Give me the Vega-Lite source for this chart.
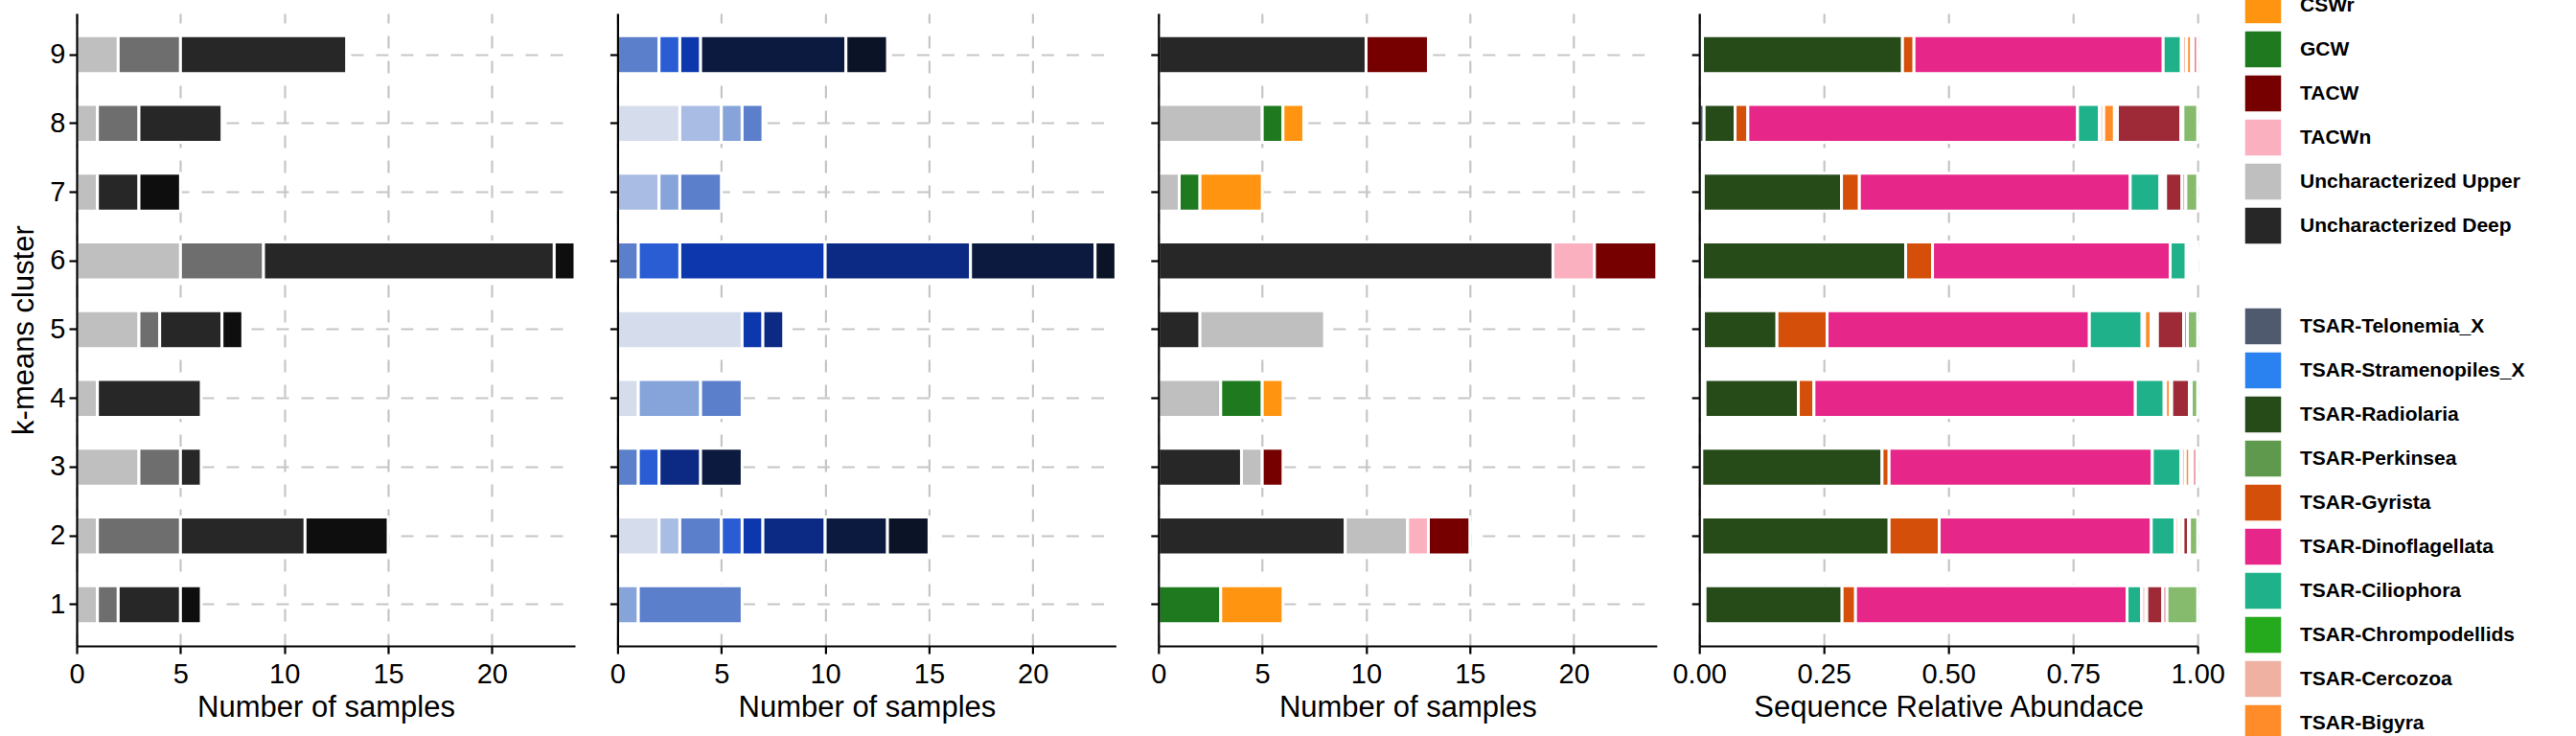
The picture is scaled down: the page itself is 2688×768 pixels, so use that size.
{
  "$schema": "https://vega.github.io/schema/vega-lite/v6.json",
  "background": "white",
  "autosize": {"type": "pad"},
  "padding": {"left": 9, "top": -15, "right": 5, "bottom": -8},
  "spacing": 44.4,
  "bounds": "flush",
  "resolve": {"scale": {"color": "independent", "x": "independent", "y": "independent"}, "legend": {"color": "independent"}},
  "datasets": {
    "gray": [
      {"cluster": 9, "zone": "Epipelagic", "n": 2}, {"cluster": 9, "zone": "Mesopelagic", "n": 3}, {"cluster": 9, "zone": "Bathypelagic", "n": 8},
      {"cluster": 8, "zone": "Epipelagic", "n": 1}, {"cluster": 8, "zone": "Mesopelagic", "n": 2}, {"cluster": 8, "zone": "Bathypelagic", "n": 4},
      {"cluster": 7, "zone": "Epipelagic", "n": 1}, {"cluster": 7, "zone": "Bathypelagic", "n": 2}, {"cluster": 7, "zone": "Abyssopelagic", "n": 2},
      {"cluster": 6, "zone": "Epipelagic", "n": 5}, {"cluster": 6, "zone": "Mesopelagic", "n": 4}, {"cluster": 6, "zone": "Bathypelagic", "n": 14}, {"cluster": 6, "zone": "Abyssopelagic", "n": 1},
      {"cluster": 5, "zone": "Epipelagic", "n": 3}, {"cluster": 5, "zone": "Mesopelagic", "n": 1}, {"cluster": 5, "zone": "Bathypelagic", "n": 3}, {"cluster": 5, "zone": "Abyssopelagic", "n": 1},
      {"cluster": 4, "zone": "Epipelagic", "n": 1}, {"cluster": 4, "zone": "Bathypelagic", "n": 5},
      {"cluster": 3, "zone": "Epipelagic", "n": 3}, {"cluster": 3, "zone": "Mesopelagic", "n": 2}, {"cluster": 3, "zone": "Bathypelagic", "n": 1},
      {"cluster": 2, "zone": "Epipelagic", "n": 1}, {"cluster": 2, "zone": "Mesopelagic", "n": 4}, {"cluster": 2, "zone": "Bathypelagic", "n": 6}, {"cluster": 2, "zone": "Abyssopelagic", "n": 4},
      {"cluster": 1, "zone": "Epipelagic", "n": 1}, {"cluster": 1, "zone": "Mesopelagic", "n": 1}, {"cluster": 1, "zone": "Bathypelagic", "n": 3}, {"cluster": 1, "zone": "Abyssopelagic", "n": 1}
    ],
    "blue": [
      {"cluster": 9, "layer": "Layer 4", "n": 2}, {"cluster": 9, "layer": "Layer 5", "n": 1}, {"cluster": 9, "layer": "Layer 6", "n": 1}, {"cluster": 9, "layer": "Layer 8", "n": 7}, {"cluster": 9, "layer": "Layer 9", "n": 2},
      {"cluster": 8, "layer": "Layer 1", "n": 3}, {"cluster": 8, "layer": "Layer 2", "n": 2}, {"cluster": 8, "layer": "Layer 3", "n": 1}, {"cluster": 8, "layer": "Layer 4", "n": 1},
      {"cluster": 7, "layer": "Layer 2", "n": 2}, {"cluster": 7, "layer": "Layer 3", "n": 1}, {"cluster": 7, "layer": "Layer 4", "n": 2},
      {"cluster": 6, "layer": "Layer 4", "n": 1}, {"cluster": 6, "layer": "Layer 5", "n": 2}, {"cluster": 6, "layer": "Layer 6", "n": 7}, {"cluster": 6, "layer": "Layer 7", "n": 7}, {"cluster": 6, "layer": "Layer 8", "n": 6}, {"cluster": 6, "layer": "Layer 9", "n": 1},
      {"cluster": 5, "layer": "Layer 1", "n": 6}, {"cluster": 5, "layer": "Layer 6", "n": 1}, {"cluster": 5, "layer": "Layer 7", "n": 1},
      {"cluster": 4, "layer": "Layer 1", "n": 1}, {"cluster": 4, "layer": "Layer 3", "n": 3}, {"cluster": 4, "layer": "Layer 4", "n": 2},
      {"cluster": 3, "layer": "Layer 4", "n": 1}, {"cluster": 3, "layer": "Layer 5", "n": 1}, {"cluster": 3, "layer": "Layer 7", "n": 2}, {"cluster": 3, "layer": "Layer 8", "n": 2},
      {"cluster": 2, "layer": "Layer 1", "n": 2}, {"cluster": 2, "layer": "Layer 2", "n": 1}, {"cluster": 2, "layer": "Layer 4", "n": 2}, {"cluster": 2, "layer": "Layer 5", "n": 1}, {"cluster": 2, "layer": "Layer 6", "n": 1}, {"cluster": 2, "layer": "Layer 7", "n": 3}, {"cluster": 2, "layer": "Layer 8", "n": 3}, {"cluster": 2, "layer": "Layer 9", "n": 2},
      {"cluster": 1, "layer": "Layer 3", "n": 1}, {"cluster": 1, "layer": "Layer 4", "n": 5}
    ],
    "mass": [
      {"cluster": 9, "mass": "Uncharacterized Deep", "n": 10}, {"cluster": 9, "mass": "TACW", "n": 3},
      {"cluster": 8, "mass": "Uncharacterized Upper", "n": 5}, {"cluster": 8, "mass": "GCW", "n": 1}, {"cluster": 8, "mass": "CSWr", "n": 1},
      {"cluster": 7, "mass": "Uncharacterized Upper", "n": 1}, {"cluster": 7, "mass": "GCW", "n": 1}, {"cluster": 7, "mass": "CSWr", "n": 3},
      {"cluster": 6, "mass": "Uncharacterized Deep", "n": 19}, {"cluster": 6, "mass": "TACWn", "n": 2}, {"cluster": 6, "mass": "TACW", "n": 3},
      {"cluster": 5, "mass": "Uncharacterized Deep", "n": 2}, {"cluster": 5, "mass": "Uncharacterized Upper", "n": 6},
      {"cluster": 4, "mass": "Uncharacterized Upper", "n": 3}, {"cluster": 4, "mass": "GCW", "n": 2}, {"cluster": 4, "mass": "CSWr", "n": 1},
      {"cluster": 3, "mass": "Uncharacterized Deep", "n": 4}, {"cluster": 3, "mass": "Uncharacterized Upper", "n": 1}, {"cluster": 3, "mass": "TACW", "n": 1},
      {"cluster": 2, "mass": "Uncharacterized Deep", "n": 9}, {"cluster": 2, "mass": "Uncharacterized Upper", "n": 3}, {"cluster": 2, "mass": "TACWn", "n": 1}, {"cluster": 2, "mass": "TACW", "n": 2},
      {"cluster": 1, "mass": "GCW", "n": 3}, {"cluster": 1, "mass": "CSWr", "n": 3}
    ],
    "taxa": [
      {"cluster": 9, "taxon": "Unassigned", "p": 0.0064}, {"cluster": 9, "taxon": "TSAR-Radiolaria", "p": 0.4013}, {"cluster": 9, "taxon": "TSAR-Gyrista", "p": 0.0231}, {"cluster": 9, "taxon": "TSAR-Dinoflagellata", "p": 0.5}, {"cluster": 9, "taxon": "TSAR-Ciliophora", "p": 0.0365}, {"cluster": 9, "taxon": "TSAR-Chrompodellids", "p": 0.003}, {"cluster": 9, "taxon": "TSAR-Cercozoa", "p": 0.0077}, {"cluster": 9, "taxon": "TSAR-Bigyra", "p": 0.0098}, {"cluster": 9, "taxon": "TSAR-Apicomplexa", "p": 0.0032}, {"cluster": 9, "taxon": "TSAR-Alveolata_X", "p": 0.009},
      {"cluster": 8, "taxon": "TSAR-Telonemia_X", "p": 0.0096}, {"cluster": 8, "taxon": "TSAR-Radiolaria", "p": 0.0622}, {"cluster": 8, "taxon": "TSAR-Gyrista", "p": 0.0256}, {"cluster": 8, "taxon": "TSAR-Dinoflagellata", "p": 0.6616}, {"cluster": 8, "taxon": "TSAR-Ciliophora", "p": 0.044}, {"cluster": 8, "taxon": "TSAR-Chrompodellids", "p": 0.001}, {"cluster": 8, "taxon": "TSAR-Cercozoa", "p": 0.0075}, {"cluster": 8, "taxon": "TSAR-Bigyra", "p": 0.0215}, {"cluster": 8, "taxon": "TSAR-Apicomplexa", "p": 0.006}, {"cluster": 8, "taxon": "TSAR-Ancyromonadida", "p": 0.1275}, {"cluster": 8, "taxon": "TSAR-Alveolata_X", "p": 0.004}, {"cluster": 8, "taxon": "TSAR-Rhizaria_X", "p": 0.0295},
      {"cluster": 7, "taxon": "Unassigned", "p": 0.008}, {"cluster": 7, "taxon": "TSAR-Radiolaria", "p": 0.2773}, {"cluster": 7, "taxon": "TSAR-Gyrista", "p": 0.0359}, {"cluster": 7, "taxon": "TSAR-Dinoflagellata", "p": 0.5435}, {"cluster": 7, "taxon": "TSAR-Ciliophora", "p": 0.0597}, {"cluster": 7, "taxon": "TSAR-Chrompodellids", "p": 0.001}, {"cluster": 7, "taxon": "TSAR-Cercozoa", "p": 0.002}, {"cluster": 7, "taxon": "TSAR-Bigyra", "p": 0.0053}, {"cluster": 7, "taxon": "TSAR-Apicomplexa", "p": 0.003}, {"cluster": 7, "taxon": "TSAR-Ancyromonadida", "p": 0.0329}, {"cluster": 7, "taxon": "TSAR-Alveolata_X", "p": 0.0077}, {"cluster": 7, "taxon": "TSAR-Rhizaria_X", "p": 0.0237},
      {"cluster": 6, "taxon": "Unassigned", "p": 0.0064}, {"cluster": 6, "taxon": "TSAR-Radiolaria", "p": 0.4077}, {"cluster": 6, "taxon": "TSAR-Gyrista", "p": 0.0539}, {"cluster": 6, "taxon": "TSAR-Dinoflagellata", "p": 0.4769}, {"cluster": 6, "taxon": "TSAR-Ciliophora", "p": 0.0321}, {"cluster": 6, "taxon": "TSAR-Apicomplexa", "p": 0.023},
      {"cluster": 5, "taxon": "Unassigned", "p": 0.0083}, {"cluster": 5, "taxon": "TSAR-Radiolaria", "p": 0.1475}, {"cluster": 5, "taxon": "TSAR-Gyrista", "p": 0.1006}, {"cluster": 5, "taxon": "TSAR-Dinoflagellata", "p": 0.5263}, {"cluster": 5, "taxon": "TSAR-Ciliophora", "p": 0.1058}, {"cluster": 5, "taxon": "TSAR-Chrompodellids", "p": 0.004}, {"cluster": 5, "taxon": "TSAR-Cercozoa", "p": 0.001}, {"cluster": 5, "taxon": "TSAR-Bigyra", "p": 0.0129}, {"cluster": 5, "taxon": "TSAR-Apicomplexa", "p": 0.0129}, {"cluster": 5, "taxon": "TSAR-Ancyromonadida", "p": 0.0525}, {"cluster": 5, "taxon": "TSAR-Alveolata_X", "p": 0.0077}, {"cluster": 5, "taxon": "TSAR-Rhizaria_X", "p": 0.0205},
      {"cluster": 4, "taxon": "Unassigned", "p": 0.0115}, {"cluster": 4, "taxon": "TSAR-Radiolaria", "p": 0.1872}, {"cluster": 4, "taxon": "TSAR-Gyrista", "p": 0.0314}, {"cluster": 4, "taxon": "TSAR-Dinoflagellata", "p": 0.6449}, {"cluster": 4, "taxon": "TSAR-Ciliophora", "p": 0.0577}, {"cluster": 4, "taxon": "TSAR-Chrompodellids", "p": 0.002}, {"cluster": 4, "taxon": "TSAR-Cercozoa", "p": 0.001}, {"cluster": 4, "taxon": "TSAR-Bigyra", "p": 0.0093}, {"cluster": 4, "taxon": "TSAR-Apicomplexa", "p": 0.003}, {"cluster": 4, "taxon": "TSAR-Ancyromonadida", "p": 0.0353}, {"cluster": 4, "taxon": "TSAR-Alveolata_X", "p": 0.004}, {"cluster": 4, "taxon": "TSAR-Rhizaria_X", "p": 0.0127},
      {"cluster": 3, "taxon": "Unassigned", "p": 0.005}, {"cluster": 3, "taxon": "TSAR-Radiolaria", "p": 0.3617}, {"cluster": 3, "taxon": "TSAR-Gyrista", "p": 0.0141}, {"cluster": 3, "taxon": "TSAR-Dinoflagellata", "p": 0.5282}, {"cluster": 3, "taxon": "TSAR-Ciliophora", "p": 0.0577}, {"cluster": 3, "taxon": "TSAR-Chrompodellids", "p": 0.001}, {"cluster": 3, "taxon": "TSAR-Cercozoa", "p": 0.0075}, {"cluster": 3, "taxon": "TSAR-Bigyra", "p": 0.009}, {"cluster": 3, "taxon": "TSAR-Apicomplexa", "p": 0.0055}, {"cluster": 3, "taxon": "TSAR-Alveolata_X", "p": 0.0088}, {"cluster": 3, "taxon": "TSAR-Rhizaria_X", "p": 0.0015},
      {"cluster": 2, "taxon": "Unassigned", "p": 0.005}, {"cluster": 2, "taxon": "TSAR-Radiolaria", "p": 0.3758}, {"cluster": 2, "taxon": "TSAR-Gyrista", "p": 0.1006}, {"cluster": 2, "taxon": "TSAR-Dinoflagellata", "p": 0.4256}, {"cluster": 2, "taxon": "TSAR-Ciliophora", "p": 0.0475}, {"cluster": 2, "taxon": "TSAR-Chrompodellids", "p": 0.001}, {"cluster": 2, "taxon": "TSAR-Cercozoa", "p": 0.0067}, {"cluster": 2, "taxon": "TSAR-Bigyra", "p": 0.0064}, {"cluster": 2, "taxon": "TSAR-Apicomplexa", "p": 0.002}, {"cluster": 2, "taxon": "TSAR-Ancyromonadida", "p": 0.011}, {"cluster": 2, "taxon": "TSAR-Alveolata_X", "p": 0.002}, {"cluster": 2, "taxon": "TSAR-Rhizaria_X", "p": 0.0164},
      {"cluster": 1, "taxon": "Unassigned", "p": 0.0115}, {"cluster": 1, "taxon": "TSAR-Radiolaria", "p": 0.275}, {"cluster": 1, "taxon": "TSAR-Gyrista", "p": 0.027}, {"cluster": 1, "taxon": "TSAR-Dinoflagellata", "p": 0.5448}, {"cluster": 1, "taxon": "TSAR-Ciliophora", "p": 0.0289}, {"cluster": 1, "taxon": "TSAR-Chrompodellids", "p": 0.001}, {"cluster": 1, "taxon": "TSAR-Cercozoa", "p": 0.0078}, {"cluster": 1, "taxon": "TSAR-Bigyra", "p": 0.001}, {"cluster": 1, "taxon": "TSAR-Apicomplexa", "p": 0.001}, {"cluster": 1, "taxon": "TSAR-Ancyromonadida", "p": 0.0321}, {"cluster": 1, "taxon": "TSAR-Alveolata_X", "p": 0.0084}, {"cluster": 1, "taxon": "TSAR-Rhizaria_X", "p": 0.0615}
    ]
  },
  "hconcat": [
    {
      "width": 520, "height": 660,
      "data": {"name": "gray"},
      "transform": [{"calculate": "indexof(['Epipelagic','Mesopelagic','Bathypelagic','Abyssopelagic'], datum.zone)", "as": "k"}],
      "encoding": {
        "order": {"field": "k", "type": "quantitative"},
        "color": {"field": "zone", "type": "nominal", "legend": null,
          "scale": {"domain": ["Epipelagic", "Mesopelagic", "Bathypelagic", "Abyssopelagic"], "range": ["#BFBFBF", "#6E6E6E", "#272727", "#0E0E0E"]}}
      },
      "layer": [
        {"mark": {"type": "bar", "stroke": "white", "strokeWidth": 3},
         "encoding": {
           "x": {"field": "n", "type": "quantitative", "scale": {"domain": [0, 24], "nice": false},
             "axis": {"orient": "bottom", "grid": true, "domain": false, "ticks": false, "labels": false, "title": null, "values": [0, 5, 10, 15, 20], "zindex": 0}},
           "y": {"field": "cluster", "type": "ordinal", "scale": {"domain": [9, 8, 7, 6, 5, 4, 3, 2, 1], "paddingInner": 0.45, "paddingOuter": 0.325},
             "axis": {"orient": "left", "grid": true, "domain": false, "ticks": false, "labels": false, "title": null, "bandPosition": 0.5, "zindex": 0}}}},
        {"mark": {"type": "bar", "opacity": 0},
         "encoding": {
           "x": {"field": "n", "type": "quantitative", "scale": {"domain": [0, 24], "nice": false},
             "axis": {"orient": "bottom", "grid": false, "title": "Number of samples", "values": [0, 5, 10, 15, 20], "zindex": 1}},
           "y": {"field": "cluster", "type": "ordinal", "scale": {"domain": [9, 8, 7, 6, 5, 4, 3, 2, 1], "paddingInner": 0.45, "paddingOuter": 0.325},
             "axis": {"orient": "left", "grid": false, "title": "k-means cluster", "titlePadding": 10, "bandPosition": 0.5, "zindex": 1}}}}
      ],
      "resolve": {"axis": {"x": "independent", "y": "independent"}}
    },
    {
      "width": 520, "height": 660,
      "data": {"name": "blue"},
      "transform": [{"calculate": "indexof(['Layer 1','Layer 2','Layer 3','Layer 4','Layer 5','Layer 6','Layer 7','Layer 8','Layer 9'], datum.layer)", "as": "k"}],
      "encoding": {
        "order": {"field": "k", "type": "quantitative"},
        "color": {"field": "layer", "type": "nominal", "legend": null,
          "scale": {"domain": ["Layer 1", "Layer 2", "Layer 3", "Layer 4", "Layer 5", "Layer 6", "Layer 7", "Layer 8", "Layer 9"],
            "range": ["#D5DCEC", "#A9BCE3", "#86A4DA", "#5B7FCB", "#2A5DD3", "#0D37AD", "#0C2A84", "#0B1A3E", "#0B1327"]}}
      },
      "layer": [
        {"mark": {"type": "bar", "stroke": "white", "strokeWidth": 3},
         "encoding": {
           "x": {"field": "n", "type": "quantitative", "scale": {"domain": [0, 24], "nice": false},
             "axis": {"orient": "bottom", "grid": true, "domain": false, "ticks": false, "labels": false, "title": null, "values": [0, 5, 10, 15, 20], "zindex": 0}},
           "y": {"field": "cluster", "type": "ordinal", "scale": {"domain": [9, 8, 7, 6, 5, 4, 3, 2, 1], "paddingInner": 0.45, "paddingOuter": 0.325},
             "axis": {"orient": "left", "grid": true, "domain": false, "ticks": false, "labels": false, "title": null, "bandPosition": 0.5, "zindex": 0}}}},
        {"mark": {"type": "bar", "opacity": 0},
         "encoding": {
           "x": {"field": "n", "type": "quantitative", "scale": {"domain": [0, 24], "nice": false},
             "axis": {"orient": "bottom", "grid": false, "title": "Number of samples", "values": [0, 5, 10, 15, 20], "zindex": 1}},
           "y": {"field": "cluster", "type": "ordinal", "scale": {"domain": [9, 8, 7, 6, 5, 4, 3, 2, 1], "paddingInner": 0.45, "paddingOuter": 0.325},
             "axis": {"orient": "left", "grid": false, "title": null, "labels": false, "bandPosition": 0.5, "zindex": 1}}}}
      ],
      "resolve": {"axis": {"x": "independent", "y": "independent"}}
    },
    {
      "width": 520, "height": 660,
      "data": {"name": "mass"},
      "transform": [{"calculate": "indexof(['Uncharacterized Deep','Uncharacterized Upper','GCW','CSWr','TACWn','TACW'], datum.mass)", "as": "k"}],
      "encoding": {
        "order": {"field": "k", "type": "quantitative"},
        "color": {"field": "mass", "type": "nominal",
          "scale": {"domain": ["CSWr", "GCW", "TACW", "TACWn", "Uncharacterized Upper", "Uncharacterized Deep"],
            "range": ["#FF9410", "#1F7A1F", "#760000", "#FBB0C0", "#BFBFBF", "#272727"]},
          "legend": {"orient": "none", "legendX": 1132.2, "legendY": -29, "title": null, "padding": 0}}
      },
      "layer": [
        {"mark": {"type": "bar", "stroke": "white", "strokeWidth": 3},
         "encoding": {
           "x": {"field": "n", "type": "quantitative", "scale": {"domain": [0, 24], "nice": false},
             "axis": {"orient": "bottom", "grid": true, "domain": false, "ticks": false, "labels": false, "title": null, "values": [0, 5, 10, 15, 20], "zindex": 0}},
           "y": {"field": "cluster", "type": "ordinal", "scale": {"domain": [9, 8, 7, 6, 5, 4, 3, 2, 1], "paddingInner": 0.45, "paddingOuter": 0.325},
             "axis": {"orient": "left", "grid": true, "domain": false, "ticks": false, "labels": false, "title": null, "bandPosition": 0.5, "zindex": 0}}}},
        {"mark": {"type": "bar", "opacity": 0},
         "encoding": {
           "x": {"field": "n", "type": "quantitative", "scale": {"domain": [0, 24], "nice": false},
             "axis": {"orient": "bottom", "grid": false, "title": "Number of samples", "values": [0, 5, 10, 15, 20], "zindex": 1}},
           "y": {"field": "cluster", "type": "ordinal", "scale": {"domain": [9, 8, 7, 6, 5, 4, 3, 2, 1], "paddingInner": 0.45, "paddingOuter": 0.325},
             "axis": {"orient": "left", "grid": false, "title": null, "labels": false, "bandPosition": 0.5, "zindex": 1}}}}
      ],
      "resolve": {"axis": {"x": "independent", "y": "independent"}}
    },
    {
      "width": 520, "height": 660,
      "data": {"name": "taxa"},
      "transform": [{"calculate": "indexof(['Unassigned','TSAR-Telonemia_X','TSAR-Stramenopiles_X','TSAR-Radiolaria','TSAR-Perkinsea','TSAR-Gyrista','TSAR-Dinoflagellata','TSAR-Ciliophora','TSAR-Chrompodellids','TSAR-Cercozoa','TSAR-Bigyra','TSAR-Apicomplexa','TSAR-Ancyromonadida','TSAR-Alveolata_X','TSAR-Rhizaria_X'], datum.taxon)", "as": "k"}],
      "encoding": {
        "order": {"field": "k", "type": "quantitative"},
        "color": {"field": "taxon", "type": "nominal",
          "scale": {"domain": ["TSAR-Telonemia_X", "TSAR-Stramenopiles_X", "TSAR-Radiolaria", "TSAR-Perkinsea", "TSAR-Gyrista", "TSAR-Dinoflagellata", "TSAR-Ciliophora", "TSAR-Chrompodellids", "TSAR-Cercozoa", "TSAR-Bigyra", "TSAR-Apicomplexa", "TSAR-Ancyromonadida", "TSAR-Alveolata_X", "TSAR-Rhizaria_X", "Unassigned"],
            "range": ["#4F5A6E", "#2A82F0", "#264B19", "#5E994D", "#D4500A", "#E72689", "#1FB28A", "#25A91D", "#EFB2A2", "#FF8C28", "#FFFFFF", "#9D2A36", "#E48A98", "#86BA6C", "#FFFFFF"]},
          "legend": {"orient": "none", "legendX": 567.8, "legendY": 306, "title": null, "padding": 0,
            "values": ["TSAR-Telonemia_X", "TSAR-Stramenopiles_X", "TSAR-Radiolaria", "TSAR-Perkinsea", "TSAR-Gyrista", "TSAR-Dinoflagellata", "TSAR-Ciliophora", "TSAR-Chrompodellids", "TSAR-Cercozoa", "TSAR-Bigyra"]}}
      },
      "layer": [
        {"mark": {"type": "bar", "stroke": "white", "strokeWidth": 3},
         "encoding": {
           "x": {"field": "p", "type": "quantitative", "scale": {"domain": [0, 1], "nice": false},
             "axis": {"orient": "bottom", "grid": true, "domain": false, "ticks": false, "labels": false, "title": null, "values": [0, 0.25, 0.5, 0.75, 1], "zindex": 0}},
           "y": {"field": "cluster", "type": "ordinal", "scale": {"domain": [9, 8, 7, 6, 5, 4, 3, 2, 1], "paddingInner": 0.45, "paddingOuter": 0.325},
             "axis": {"orient": "left", "grid": true, "domain": false, "ticks": false, "labels": false, "title": null, "bandPosition": 0.5, "zindex": 0}}}},
        {"mark": {"type": "bar", "opacity": 0},
         "encoding": {
           "x": {"field": "p", "type": "quantitative", "scale": {"domain": [0, 1], "nice": false},
             "axis": {"orient": "bottom", "grid": false, "title": "Sequence Relative Abundace", "values": [0, 0.25, 0.5, 0.75, 1], "format": ".2f", "zindex": 1}},
           "y": {"field": "cluster", "type": "ordinal", "scale": {"domain": [9, 8, 7, 6, 5, 4, 3, 2, 1], "paddingInner": 0.45, "paddingOuter": 0.325},
             "axis": {"orient": "left", "grid": false, "title": null, "labels": false, "bandPosition": 0.5, "zindex": 1}}}}
      ],
      "resolve": {"axis": {"x": "independent", "y": "independent"}}
    }
  ],
  "config": {
    "font": "Liberation Sans",
    "view": {"stroke": null},
    "axis": {
      "domainColor": "black", "domainWidth": 2.2, "tickColor": "black", "tickWidth": 2.2, "tickSize": 8,
      "labelFontSize": 29, "labelColor": "black", "labelFont": "Liberation Sans",
      "titleFontSize": 31, "titleFontWeight": "normal", "titleColor": "black", "titleFont": "Liberation Sans",
      "gridColor": "#C6C6C6", "gridDash": [13, 13], "gridWidth": 2.2,
      "labelOverlap": false, "labelFlush": false
    },
    "axisX": {"labelPadding": 7, "titlePadding": 5},
    "axisY": {"labelPadding": 4, "titlePadding": 8},
    "legend": {
      "symbolType": "square", "symbolSize": 1521, "symbolStrokeColor": "white", "symbolStrokeWidth": 1.5, "symbolOpacity": 1,
      "labelFontSize": 21, "labelFontWeight": "bold", "labelColor": "black", "labelFont": "Liberation Sans",
      "labelOffset": 18, "rowPadding": 1, "labelLimit": 400
    }
  }
}
